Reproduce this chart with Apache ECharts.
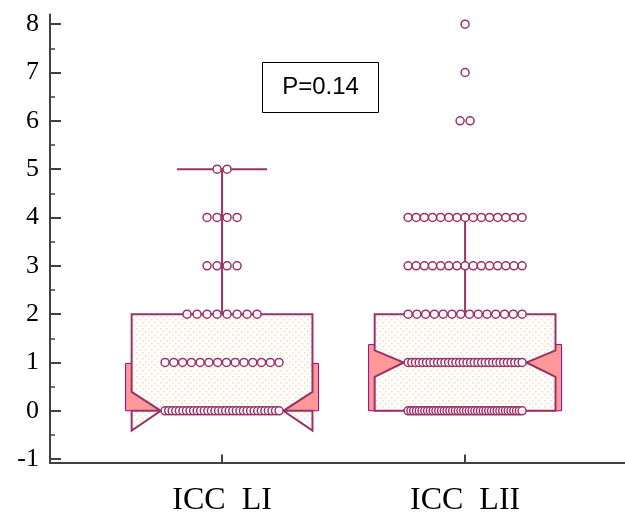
<!DOCTYPE html>
<html>
<head>
<meta charset="utf-8">
<script src="https://cdn.jsdelivr.net/npm/echarts@6/dist/echarts.min.js"></script>
<style>html,body{margin:0;padding:0;background:#fff;}#chart{width:625px;height:514px;}</style>
</head>
<body>
<div id="chart"></div>
<script>
// ---- data ----
const categories = ['ICC  LI', 'ICC  LII'];
const q1 = [0, 0];
const median = [0, 1];
const q3 = [2, 2];
const notchLow = [-0.41, 0.70];
const notchHigh = [0.39, 1.25];
const whiskerLow = [0, 0];
const whiskerHigh = [5, 4];
const ciLow = [0, 0];
const ciHigh = [0.98, 1.37];
const dotValuesLI = [0, 1, 2, 3, 4, 5];
const dotCountsLI = [33, 14, 8, 4, 4, 2];
const dotValuesLII = [0, 1, 2, 3, 4, 6, 7, 8];
const dotCountsLII = [42, 32, 14, 15, 15, 2, 1, 1];
const yTicks = [-1, 0, 1, 2, 3, 4, 5, 6, 7, 8];
const yMinorTicks = [-0.5, 0.5, 1.5, 2.5, 3.5, 4.5, 5.5, 6.5, 7.5];
const pText = 'P=0.14';

// ---- styling ----
const LINE = '#993366';
const PINK = '#ff9999';
const AXIS = '#404040';

// dotted fill pattern
const pat = document.createElement('canvas');
pat.width = 6; pat.height = 6;
const pc = pat.getContext('2d');
pc.fillStyle = '#ffffff'; pc.fillRect(0, 0, 6, 6);
pc.fillStyle = '#fcd7b4';
pc.fillRect(1, 1, 1.5, 1.5);
pc.fillRect(4, 4, 1.5, 1.5);

// dot layout (horizontal spreading of equal values)
function buildDots(center, values, counts) {
  const out = [];
  values.forEach((v, r) => {
    const n = counts[r];
    const sp = n > 1 ? Math.min(0.0412, 0.469 / (n - 1)) : 0;
    for (let k = 0; k < n; k++) out.push([center + (k - (n - 1) / 2) * sp, v]);
  });
  return out;
}
const dots = buildDots(1, dotValuesLI, dotCountsLI).concat(buildDots(2, dotValuesLII, dotCountsLII));

function renderBox(params, api) {
  const i = params.dataIndex;
  const c = i + 1;
  const hw = 0.372, inset = 0.12, ciw = 0.397, capw = 0.185;
  const L = c - hw, R = c + hw;
  const P = (x, y) => api.coord([x, y]);
  const children = [];
  const a = P(c - ciw, ciHigh[i]), b = P(c + ciw, ciLow[i]);
  children.push({type: 'rect', shape: {x: a[0], y: a[1], width: b[0] - a[0], height: b[1] - a[1]},
    style: {fill: PINK, stroke: '#990099', lineWidth: 1}});
  const pts = [[L, q3[i]], [L, notchHigh[i]], [L + inset, median[i]], [L, notchLow[i]], [L, q1[i]],
    [R, q1[i]], [R, notchLow[i]], [R - inset, median[i]], [R, notchHigh[i]], [R, q3[i]]].map(p => P(p[0], p[1]));
  children.push({type: 'polygon', shape: {points: pts},
    style: {fill: {image: pat, repeat: 'repeat'}, stroke: LINE, lineWidth: 2, lineJoin: 'miter'}});
  const m1 = P(L + inset, median[i]), m2 = P(R - inset, median[i]);
  children.push({type: 'line', shape: {x1: m1[0], y1: m1[1], x2: m2[0], y2: m2[1]}, style: {stroke: LINE, lineWidth: 2}});
  const w1 = P(c, q3[i]), w2 = P(c, whiskerHigh[i]);
  children.push({type: 'line', shape: {x1: w1[0], y1: w1[1], x2: w2[0], y2: w2[1]}, style: {stroke: LINE, lineWidth: 2}});
  const c1 = P(c - capw, whiskerHigh[i]), c2 = P(c + capw, whiskerHigh[i]);
  children.push({type: 'line', shape: {x1: c1[0], y1: c1[1], x2: c2[0], y2: c2[1]}, style: {stroke: LINE, lineWidth: 2}});
  if (whiskerLow[i] < q1[i]) {
    const l1 = P(c, q1[i]), l2 = P(c, whiskerLow[i]);
    children.push({type: 'line', shape: {x1: l1[0], y1: l1[1], x2: l2[0], y2: l2[1]}, style: {stroke: LINE, lineWidth: 2}});
  }
  return {type: 'group', children};
}

const chart = echarts.init(document.getElementById('chart'), null, {renderer: 'canvas'});
chart.setOption({
  animation: false,
  backgroundColor: '#fff',
  grid: {left: 50, right: 0, top: 14.5, bottom: 51.5, containLabel: false, outerBoundsMode: 'none'},
  xAxis: {
    type: 'value', min: 0.292, max: 2.658,
    splitLine: {show: false},
    axisLine: {show: true, onZero: false, lineStyle: {color: AXIS, width: 2}},
    axisTick: {show: true, inside: true, length: 8, customValues: [1, 2], lineStyle: {color: AXIS, width: 2}},
    axisLabel: {customValues: [1, 2], formatter: v => categories[Math.round(v) - 1], margin: 22,
      fontFamily: 'Liberation Serif', fontSize: 32, color: '#000'}
  },
  yAxis: [{
    type: 'value', min: -1.07, max: 8.2,
    splitLine: {show: false},
    axisLine: {show: true, onZero: false, lineStyle: {color: AXIS, width: 2}},
    axisTick: {show: true, inside: true, length: 11, customValues: yTicks, lineStyle: {color: AXIS, width: 2}},
    axisLabel: {customValues: yTicks, margin: 11, fontFamily: 'Liberation Serif', fontSize: 26, color: '#000'}
  }, {
    type: 'value', min: -1.07, max: 8.2, position: 'left', offset: 0,
    splitLine: {show: false},
    axisLine: {show: false},
    axisTick: {show: true, inside: true, length: 5, customValues: yMinorTicks, lineStyle: {color: AXIS, width: 1.5}},
    axisLabel: {show: false}
  }],
  series: [{
    type: 'custom',
    renderItem: renderBox,
    data: categories.map((_, i) => [i + 1, q3[i]]),
    z: 2
  }, {
    type: 'scatter',
    data: dots,
    symbol: 'circle',
    symbolSize: 8,
    itemStyle: {color: '#fff', borderColor: LINE, borderWidth: 1.5, opacity: 1},
    z: 3
  }],
  graphic: [{
    type: 'group', left: 262, top: 62,
    children: [
      {type: 'rect', shape: {x: 0, y: 0, width: 116, height: 50}, style: {fill: '#fff', stroke: '#000', lineWidth: 1}},
      {type: 'text', x: 58, y: 25, style: {text: pText, fontFamily: 'Liberation Sans', fontSize: 24, fill: '#000', align: 'center', verticalAlign: 'middle'}}
    ]
  }]
});
</script>
</body>
</html>
